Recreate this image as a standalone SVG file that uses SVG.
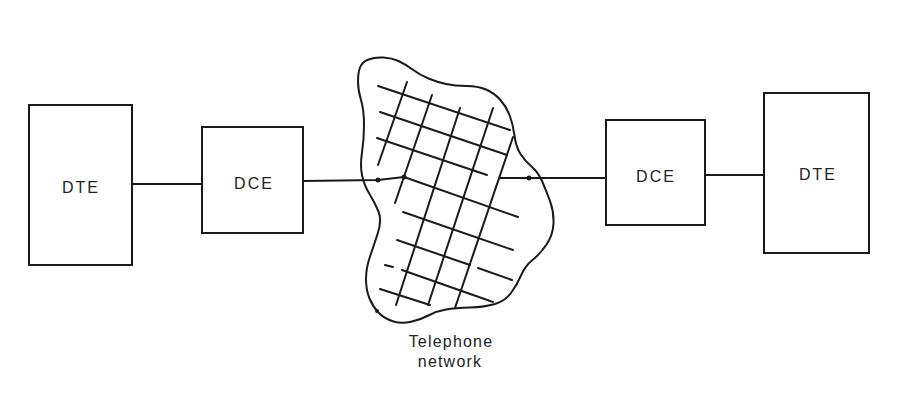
<svg xmlns="http://www.w3.org/2000/svg" width="912" height="397" viewBox="0 0 912 397">
<style>
.box{fill:none;stroke:#1a1a1a;stroke-width:2}
.ln{fill:none;stroke:#1a1a1a;stroke-width:2;stroke-linecap:round;stroke-linejoin:round}
.lbl{font-family:"Liberation Sans",Arial,sans-serif;font-size:16px;fill:#222;text-anchor:middle;letter-spacing:2px}
.cap{font-family:"Liberation Sans",Arial,sans-serif;font-size:16px;fill:#222;text-anchor:middle;letter-spacing:1.2px}
.dot{fill:#1a1a1a}
</style>
<rect width="912" height="397" fill="#fff"/>
<g id="connectors">
<polyline class="ln" points="132,184 202,184"/>
<polyline class="ln" points="303,181 378,180 404,177"/>
<polyline class="ln" points="500,178 606,178"/>
<polyline class="ln" points="705,175 764,175"/>
<circle class="dot" cx="378" cy="180" r="2.5"/>
<circle class="dot" cx="404" cy="177" r="2.5"/>
<circle class="dot" cx="529" cy="178" r="2.5"/>
</g>
<g id="dte-left">
<rect class="box" x="29" y="105" width="103" height="160"/>
<text class="lbl" x="81" y="193">DTE</text>
</g>
<g id="dce-left">
<rect class="box" x="202" y="127" width="101" height="106"/>
<text class="lbl" x="254" y="189">DCE</text>
</g>
<g id="network">
<path class="ln" d="M358,81.5 Q358,73 360,67.5 Q362,62 368.5,59.5 Q375,57 383.5,57.5 Q392,58 398.5,61 Q405,64 412.5,69.5 Q420,75 428.5,78.5 Q437,82 446,84 Q455,86 466.5,86 Q478,86 486,89.5 Q494,93 500,99.5 Q506,106 509.5,115 Q513,124 514.5,135.5 Q516,147 520.5,154 Q525,161 531.5,166.5 Q538,172 542,181 Q546,190 550,201 Q554,212 553.5,223.5 Q553,235 546.5,244.5 Q540,254 532.5,260 Q525,266 521,275.5 Q517,285 511,293 Q505,301 495,304 Q485,307 470,307.5 Q455,308 446,309.5 Q437,311 429.5,315 Q422,319 412,321.5 Q402,324 393.5,321.5 Q385,319 379,313 Q373,307 369.5,298.5 Q366,290 366,279 Q366,268 370,256.5 Q374,245 378,232.5 Q382,220 378.5,211.5 Q375,203 369.5,194 Q364,185 362,175 Q360,165 362,152.5 Q364,140 364,125 Q364,110 361,100 Q358,90 358,81.5 Z"/>
<circle class="dot" cx="377" cy="311" r="2"/>
<line class="ln" x1="378" y1="86" x2="510" y2="130"/>
<line class="ln" x1="380" y1="112" x2="507" y2="155"/>
<line class="ln" x1="377" y1="138" x2="487" y2="175"/>
<line class="ln" x1="404" y1="177" x2="518" y2="217"/>
<line class="ln" x1="403" y1="212" x2="513" y2="250"/>
<line class="ln" x1="397" y1="240" x2="470" y2="265"/>
<line class="ln" x1="478" y1="268" x2="512" y2="280"/>
<line class="ln" x1="385" y1="265" x2="393" y2="267"/>
<line class="ln" x1="402" y1="270" x2="493" y2="302"/>
<line class="ln" x1="380" y1="289" x2="430" y2="305"/>
<line class="ln" x1="407" y1="82" x2="378" y2="165"/>
<line class="ln" x1="432" y1="95" x2="395" y2="203"/>
<line class="ln" x1="460" y1="108" x2="396" y2="305"/>
<line class="ln" x1="493" y1="108" x2="428" y2="305"/>
<line class="ln" x1="513" y1="137" x2="455" y2="308"/>
<text class="cap" x="451" y="347">Telephone</text>
<text class="cap" x="450" y="367">network</text>
</g>
<g id="dce-right">
<rect class="box" x="606" y="120" width="99" height="105"/>
<text class="lbl" x="656" y="182">DCE</text>
</g>
<g id="dte-right">
<rect class="box" x="764" y="93" width="105" height="160"/>
<text class="lbl" x="818" y="180">DTE</text>
</g>
</svg>
